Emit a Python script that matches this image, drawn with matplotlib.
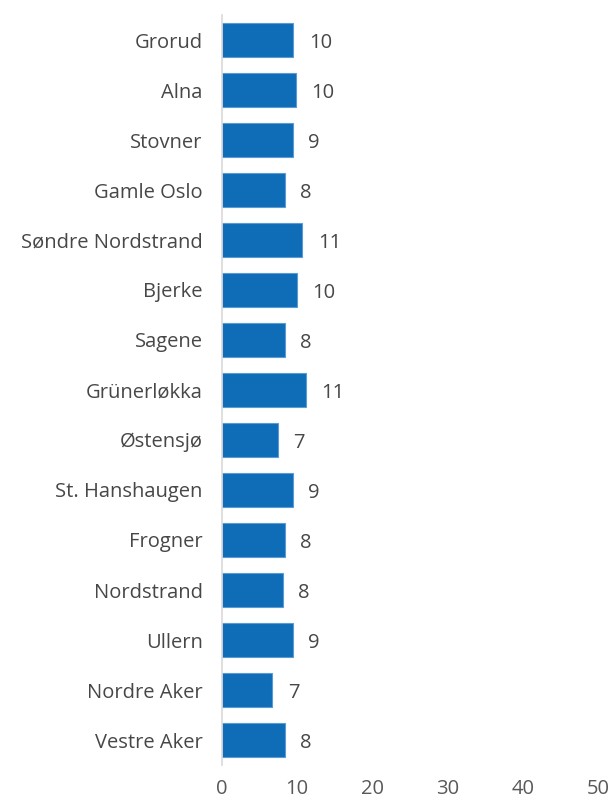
import matplotlib.pyplot as plt

bydeler = ['Grorud', 'Alna', 'Stovner', 'Gamle Oslo', 'Søndre Nordstrand', 'Bjerke',
           'Sagene', 'Grünerløkka', 'Østensjø', 'St. Hanshaugen', 'Frogner',
           'Nordstrand', 'Ullern', 'Nordre Aker', 'Vestre Aker']
verdier = [9.5, 9.8, 9.4, 8.4, 10.7, 10.0, 8.4, 11.2, 7.4, 9.4, 8.4, 8.1, 9.4, 6.7, 8.4]
xticks = [0, 10, 20, 30, 40, 50]

plt.rcParams['font.family'] = ['Open Sans', 'DejaVu Sans']
tekst = '#474747'

fig = plt.figure(figsize=(6.14, 8.01), dpi=100)
ax = fig.add_axes([222/614, 1 - 765/801, (598 - 222)/614, 750/801])

pos = list(range(len(bydeler)))
ax.barh(pos, verdier, height=0.68, color='#0F6CB6', edgecolor='#5B9BD5', linewidth=0.8, zorder=2)
for p, v in zip(pos, verdier):
    ax.annotate(f'{v:.0f}', (v, p), xytext=(11, 0), textcoords='offset points',
                va='center_baseline', ha='left', fontsize=14.5, color=tekst)

ax.set_ylim(len(bydeler) - 0.5, -0.5)
ax.set_xlim(0, 50)
ax.set_yticks(pos)
ax.set_yticklabels(bydeler, fontsize=14.5, color=tekst)
ax.set_xticks(xticks)
ax.set_xticklabels([str(t) for t in xticks], fontsize=14.5, color='#595959')
ax.tick_params(length=0)
ax.tick_params(axis='y', pad=14)
ax.tick_params(axis='x', pad=10)
for s in ['top', 'right', 'bottom']:
    ax.spines[s].set_visible(False)
ax.spines['left'].set_color('#D9D9D9')
ax.spines['left'].set_linewidth(1.2)

fig.savefig('out.png', dpi=100)
